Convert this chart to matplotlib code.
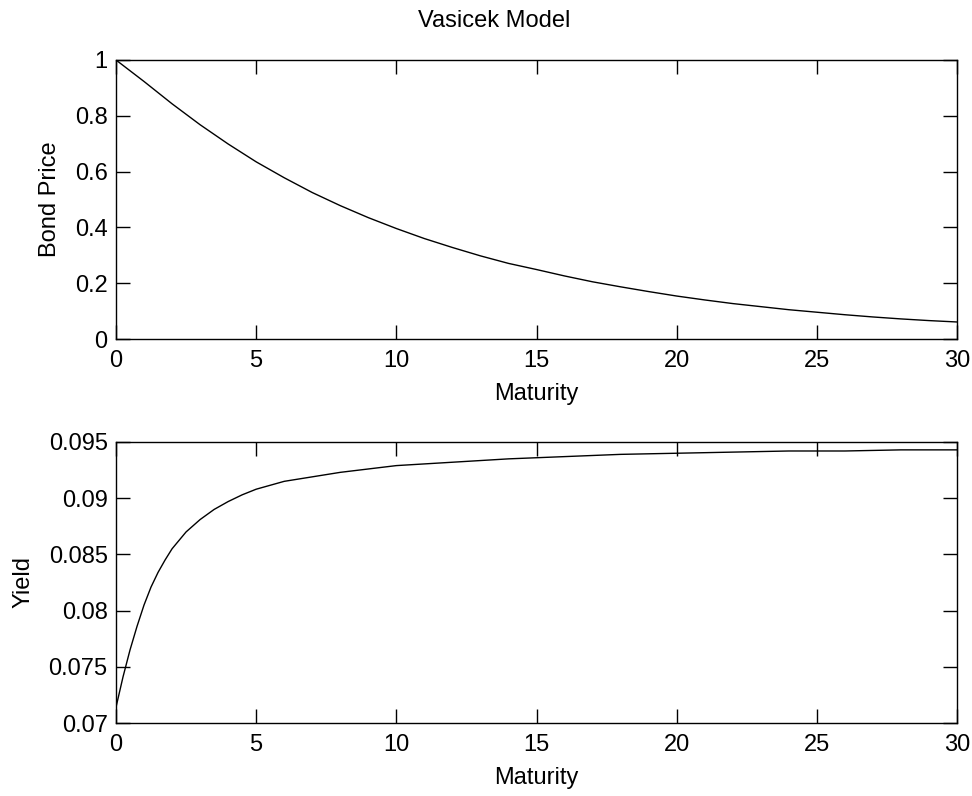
import matplotlib
matplotlib.use("Agg")
import matplotlib.pyplot as plt

# readings from the reference picture
maturity_price = list(range(0, 31))
bond_price = [
    1.000, 0.923, 0.843, 0.768, 0.699, 0.635, 0.578, 0.525, 0.478, 0.435,
    0.396, 0.360, 0.328, 0.298, 0.271, 0.249, 0.226, 0.205, 0.187, 0.170,
    0.154, 0.140, 0.127, 0.116, 0.105, 0.096, 0.087, 0.079, 0.072, 0.066,
    0.061,
]

maturity_yield = [
    0, 0.25, 0.5, 0.75, 1, 1.25, 1.5, 1.75, 2, 2.5, 3, 3.5, 4, 4.5, 5,
    6, 7, 8, 9, 10, 12, 14, 16, 18, 20, 22, 24, 26, 28, 30,
]
yield_values = [
    0.0714, 0.0741, 0.0765, 0.0786, 0.0805, 0.0821, 0.0834, 0.0845, 0.0855,
    0.0870, 0.0881, 0.0890, 0.0897, 0.0903, 0.0908, 0.0915, 0.0919, 0.0923,
    0.0926, 0.0929, 0.0932, 0.0935, 0.0937, 0.0939, 0.0940, 0.0941, 0.0942,
    0.0942, 0.0943, 0.0943,
]

x_ticks = [0, 5, 10, 15, 20, 25, 30]
price_ticks = [0, 0.2, 0.4, 0.6, 0.8, 1]
price_labels = ["0", "0.2", "0.4", "0.6", "0.8", "1"]
yield_ticks = [0.07, 0.075, 0.08, 0.085, 0.09, 0.095]
yield_labels = ["0.07", "0.075", "0.08", "0.085", "0.09", "0.095"]

plt.rcParams["font.family"] = ["Liberation Sans", "DejaVu Sans"]
plt.rcParams["font.size"] = 17

W, H = 972, 796
fig = plt.figure(figsize=(W / 100, H / 100), dpi=100)


def axes_px(left, top, right, bottom):
    return fig.add_axes([left / W, 1 - bottom / H, (right - left) / W, (bottom - top) / H])


def style(ax):
    for s in ax.spines.values():
        s.set_linewidth(1.0)
        s.set_color("black")
    ax.tick_params(direction="in", length=10, width=1.0, top=True, right=True,
                   labelsize=17, colors="black")
    ax.tick_params(axis="y", pad=6)
    ax.tick_params(axis="x", pad=8)


ax1 = axes_px(116, 60, 957, 339)
ax1.plot(maturity_price, bond_price, color="black", lw=1.0)
ax1.set_xlim(0, 30)
ax1.set_ylim(0, 1)
ax1.set_xticks(x_ticks)
ax1.set_yticks(price_ticks)
ax1.set_yticklabels(price_labels)
ax1.set_xlabel("Maturity", labelpad=8)
ax1.set_ylabel("Bond Price", labelpad=10)
style(ax1)

ax2 = axes_px(116, 442, 957, 723)
ax2.plot(maturity_yield, yield_values, color="black", lw=1.0)
ax2.set_xlim(0, 30)
ax2.set_ylim(0.07, 0.095)
ax2.set_xticks(x_ticks)
ax2.set_yticks(yield_ticks)
ax2.set_yticklabels(yield_labels)
ax2.set_xlabel("Maturity", labelpad=8)
ax2.set_ylabel("Yield", labelpad=10)
style(ax2)

fig.text(494 / W, 1 - 21 / H, "Vasicek Model", ha="center", va="center", fontsize=17)

fig.savefig("out.png", dpi=100)
